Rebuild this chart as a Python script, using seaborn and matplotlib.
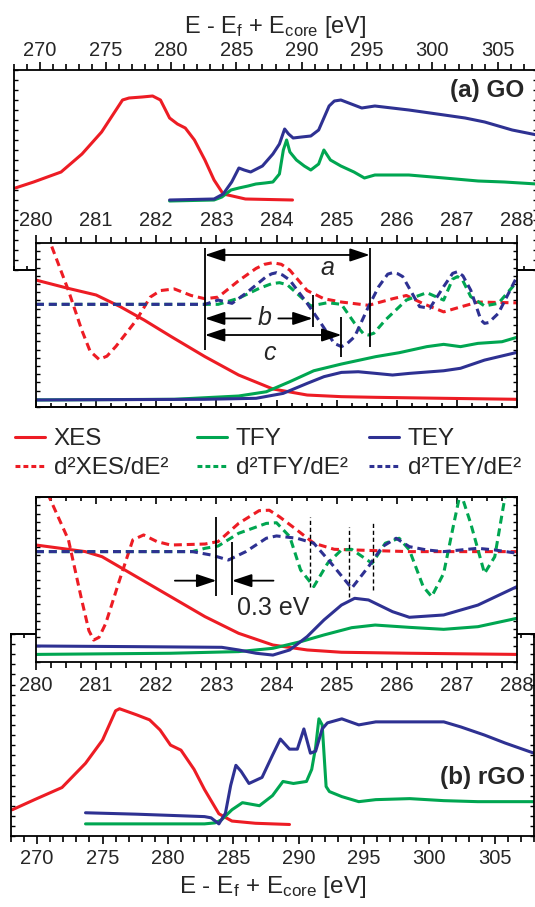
"""
Espectros XES / XAS (TFY, TEY) de GO y rGO con segundas derivadas.
Dos paneles grandes (rango completo) y dos recuadros 280-288 eV.
"""

import matplotlib
matplotlib.use("Agg")
import matplotlib.pyplot as plt
import seaborn as sns
from matplotlib.ticker import MultipleLocator, NullLocator
from matplotlib.lines import Line2D

sns.set_style("ticks")
plt.rcParams["font.family"] = ["Liberation Sans", "DejaVu Sans"]
plt.rcParams["mathtext.fontset"] = "custom"
plt.rcParams["mathtext.rm"] = "Liberation Sans"
plt.rcParams["mathtext.it"] = "Liberation Sans:italic"

# ----------------------------------------------------------
# DATOS (energía en eV, intensidad en unidades arbitrarias)
# ----------------------------------------------------------

# (a) GO, rango completo
xes_go_E = [268.1, 269.5, 271.6, 273.2, 274.7, 275.8, 276.3, 276.8, 277.8, 278.6,
            279.2, 279.9, 280.5, 281.1, 281.8, 282.6, 283.3, 284.0, 284.7, 285.7, 289.3]
xes_go_I = [0.41, 0.44, 0.49, 0.58, 0.69, 0.80, 0.85, 0.86, 0.865, 0.87,
            0.85, 0.76, 0.73, 0.71, 0.65, 0.55, 0.45, 0.38, 0.37, 0.355, 0.35]

tey_go_E = [279.9, 283.3, 284.0, 284.65, 285.2, 285.6, 286.1, 287.0, 287.8, 288.3,
            288.7, 289.0, 289.35, 290.0, 290.7, 291.3, 291.7, 292.1, 292.5, 293.0,
            293.8, 294.6, 295.6, 298.2, 300.9, 302.5, 304.0, 306.1, 308.0]
tey_go_I = [0.35, 0.355, 0.38, 0.44, 0.51, 0.50, 0.49, 0.52, 0.58, 0.63,
            0.705, 0.68, 0.66, 0.665, 0.67, 0.70, 0.76, 0.82, 0.845, 0.85,
            0.83, 0.81, 0.82, 0.80, 0.775, 0.76, 0.74, 0.70, 0.675]

tfy_go_E = [279.9, 283.3, 283.9, 284.6, 285.2, 285.9, 286.5, 287.2, 287.8, 288.3,
            288.6, 288.85, 289.1, 289.6, 290.2, 290.7, 291.3, 291.7, 292.2, 293.0,
            294.0, 294.8, 295.6, 298.2, 300.9, 303.5, 305.5, 308.0]
tfy_go_I = [0.345, 0.35, 0.365, 0.40, 0.41, 0.42, 0.43, 0.435, 0.44, 0.48,
            0.60, 0.65, 0.59, 0.55, 0.52, 0.50, 0.53, 0.60, 0.55, 0.52,
            0.49, 0.46, 0.475, 0.475, 0.46, 0.445, 0.44, 0.43]

# (a) GO, recuadro 280-288 eV
xes_go_zE = [280.0, 280.54, 281.0, 281.4, 281.8, 282.25, 282.81, 283.37, 283.94,
             284.51, 285.08, 285.65, 286.78, 288.0]
xes_go_zI = [0.774, 0.723, 0.683, 0.612, 0.53, 0.429, 0.307, 0.195, 0.11,
             0.073, 0.063, 0.059, 0.053, 0.047]

tfy_go_zE = [280.0, 282.3, 283.37, 283.83, 284.22, 284.62, 285.08, 285.65, 286.04,
             286.5, 286.78, 287.06, 287.35, 287.75, 288.0]
tfy_go_zI = [0.043, 0.047, 0.067, 0.093, 0.154, 0.221, 0.262, 0.307, 0.331,
             0.368, 0.382, 0.368, 0.388, 0.398, 0.425]

tey_go_zE = [280.0, 282.81, 283.66, 284.11, 284.51, 284.79, 285.08, 285.36, 285.65,
             285.93, 286.21, 286.78, 287.06, 287.46, 288.0]
tey_go_zI = [0.043, 0.047, 0.053, 0.083, 0.144, 0.185, 0.211, 0.215, 0.205,
             0.195, 0.205, 0.221, 0.236, 0.286, 0.333]

d2xes_go_E = [280.0, 280.12, 280.25, 280.54, 280.76, 280.9, 281.05, 281.18, 281.33,
              281.67, 281.9, 282.07, 282.3, 282.58, 282.81, 283.03, 283.37, 283.66,
              283.8, 283.94, 284.08, 284.22, 284.51, 284.79, 285.08, 285.53, 285.93,
              286.16, 286.44, 286.78, 287.06, 287.35, 288.0]
d2xes_go_I = [1.1, 1.06, 0.99, 0.71, 0.47, 0.34, 0.29, 0.31, 0.37,
              0.53, 0.67, 0.71, 0.72, 0.68, 0.66, 0.67, 0.77, 0.845,
              0.87, 0.88, 0.87, 0.835, 0.71, 0.66, 0.64, 0.62, 0.66,
              0.68, 0.63, 0.58, 0.61, 0.64, 0.635]

d2tey_go_E = [280.0, 282.81, 283.03, 283.26, 283.49, 283.83, 283.92, 284.0, 284.1,
              284.22, 284.51, 284.74, 284.96, 285.08, 285.17, 285.3, 285.53, 285.7,
              285.85, 285.93, 286.02, 286.1, 286.38, 286.55, 286.78, 286.93, 287.01,
              287.1, 287.23, 287.4, 287.46, 287.53, 287.69, 288.0]
d2tey_go_I = [0.626, 0.626, 0.652, 0.632, 0.693, 0.795, 0.812, 0.819, 0.805,
              0.774, 0.632, 0.51, 0.388, 0.368, 0.385, 0.429, 0.612, 0.734,
              0.81, 0.819, 0.812, 0.795, 0.612, 0.602, 0.734, 0.815, 0.825,
              0.80, 0.713, 0.53, 0.51, 0.515, 0.571, 0.795]

d2tfy_go_E = [280.0, 283.03, 283.37, 283.71, 283.92, 284.05, 284.18, 284.34, 284.57,
              284.85, 285.08, 285.3, 285.45, 285.53, 285.62, 285.81, 286.16, 286.5,
              286.78, 286.93, 287.01, 287.1, 287.23, 287.46, 287.69, 288.0]
d2tfy_go_I = [0.626, 0.626, 0.663, 0.723, 0.752, 0.758, 0.745, 0.693, 0.616,
              0.636, 0.626, 0.51, 0.445, 0.439, 0.45, 0.53, 0.652, 0.697,
              0.652, 0.78, 0.795, 0.77, 0.673, 0.616, 0.632, 0.764]

# (b) rGO, rango completo
xes_rgo_E = [268.1, 269.8, 271.9, 273.7, 275.0, 276.0, 276.3, 277.6, 278.6, 279.4,
             280.2, 281.0, 282.0, 282.8, 283.9, 284.9, 286.7, 289.3]
xes_rgo_I = [0.13, 0.18, 0.24, 0.36, 0.475, 0.62, 0.63, 0.60, 0.575, 0.525,
             0.45, 0.425, 0.33, 0.23, 0.11, 0.074, 0.063, 0.057]

tey_rgo_E = [273.7, 277.6, 282.8, 283.3, 283.9, 284.4, 284.8, 285.2, 285.6, 286.2,
             287.2, 288.0, 288.6, 289.3, 289.9, 290.4, 290.9, 291.3, 291.8, 292.2,
             293.3, 294.6, 295.9, 298.5, 301.1, 302.4, 304.2, 305.8, 308.0]
tey_rgo_I = [0.115, 0.108, 0.096, 0.09, 0.06, 0.113, 0.25, 0.35, 0.32, 0.26,
             0.29, 0.40, 0.48, 0.43, 0.43, 0.53, 0.41, 0.42, 0.53, 0.56,
             0.58, 0.55, 0.565, 0.565, 0.565, 0.54, 0.50, 0.46, 0.41]

tfy_rgo_E = [273.7, 282.8, 283.6, 284.1, 284.9, 285.7, 287.0, 288.0, 288.8, 289.6,
             290.6, 291.0, 291.3, 291.55, 291.8, 292.1, 292.35, 293.3, 294.6, 295.9,
             298.5, 301.1, 303.7, 308.0]
tfy_rgo_I = [0.06, 0.06, 0.065, 0.08, 0.13, 0.165, 0.15, 0.20, 0.27, 0.26,
             0.27, 0.33, 0.44, 0.58, 0.55, 0.245, 0.22, 0.195, 0.17, 0.18,
             0.185, 0.175, 0.17, 0.17]

# (b) rGO, recuadro 280-288 eV
xes_rgo_zE = [280.0, 280.82, 281.1, 281.67, 282.24, 282.81, 283.37, 283.94, 284.51,
              285.08, 286.21, 288.0]
xes_rgo_zI = [0.709, 0.669, 0.638, 0.517, 0.396, 0.275, 0.174, 0.103, 0.073,
              0.059, 0.053, 0.046]

tey_rgo_zE = [280.0, 281.67, 283.09, 283.37, 283.66, 283.94, 284.22, 284.51, 284.79,
              285.08, 285.3, 285.53, 285.93, 286.21, 286.78, 287.35, 288.0]
tey_rgo_zI = [0.097, 0.093, 0.089, 0.073, 0.053, 0.042, 0.073, 0.154, 0.255,
              0.345, 0.386, 0.376, 0.305, 0.271, 0.285, 0.345, 0.457]

tfy_rgo_zE = [280.0, 282.24, 283.37, 283.94, 284.4, 284.79, 285.25, 285.64, 286.21,
              286.78, 287.35, 288.0]
tfy_rgo_zI = [0.046, 0.053, 0.063, 0.083, 0.123, 0.164, 0.208, 0.224, 0.21,
              0.198, 0.214, 0.265]

d2xes_rgo_E = [280.05, 280.22, 280.54, 280.76, 280.88, 280.96, 281.05, 281.16, 281.39,
               281.61, 281.79, 282.01, 282.24, 282.81, 283.03, 283.37, 283.71, 283.88,
               284.05, 284.34, 284.62, 284.96, 285.64, 286.21, 288.0]
d2xes_rgo_I = [1.25, 1.0, 0.74, 0.376, 0.19, 0.133, 0.15, 0.234, 0.497,
               0.74, 0.77, 0.73, 0.709, 0.715, 0.73, 0.84, 0.917, 0.92,
               0.88, 0.80, 0.72, 0.683, 0.675, 0.669, 0.669]

d2tfy_rgo_E = [280.0, 282.6, 282.81, 283.03, 283.37, 283.83, 284.0, 284.22, 284.4,
               284.62, 284.85, 285.08, 285.25, 285.47, 285.59, 285.81, 286.04, 286.21,
               286.44, 286.58, 286.78, 286.95, 287.06, 287.23, 287.46, 287.63, 287.8,
               287.9]
d2tfy_rgo_I = [0.669, 0.669, 0.689, 0.703, 0.78, 0.84, 0.844, 0.76, 0.558,
               0.457, 0.598, 0.679, 0.683, 0.628, 0.598, 0.72, 0.75, 0.679,
               0.457, 0.396, 0.537, 0.84, 1.03, 0.84, 0.537, 0.638, 1.0,
               1.15]

d2tey_rgo_E = [280.0, 282.6, 282.92, 283.2, 283.49, 283.83, 284.0, 284.34, 284.62,
               284.91, 285.25, 285.53, 285.76, 285.99, 286.21, 286.5, 286.78, 287.35,
               287.63, 288.0]
d2tey_rgo_I = [0.669, 0.669, 0.648, 0.618, 0.669, 0.75, 0.764, 0.75, 0.72,
               0.598, 0.447, 0.578, 0.699, 0.75, 0.699, 0.679, 0.669, 0.689,
               0.679, 0.659]

# marcas de las distancias a, b, c (recuadro GO)
marca_E_ini = 282.81
marca_E_a, marca_E_b, marca_E_c = 285.55, 284.6, 285.08
flecha_y_a, flecha_y_b, flecha_y_c = 0.927, 0.54, 0.439

# marcas del desplazamiento de 0.3 eV (recuadro rGO)
marca_03_E = [283.0, 283.26]
marca_03_ymin = [0.40, 0.406]
marca_03_ymax = [0.88, 0.73]
flecha_y_03 = 0.493
lineas_pico_E = [284.55, 285.2, 285.6]
lineas_pico_ymin = [0.457, 0.396, 0.437]
lineas_pico_ymax = [0.88, 0.82, 0.857]

# ----------------------------------------------------------
# ESTILO
# ----------------------------------------------------------
C_XES = "#ed1c24"
C_TFY = "#00a651"
C_TEY = "#2e3192"
GUION = (0, (2.6, 1.6))
LW = 2.2

W, H = 535, 907
fig = plt.figure(figsize=(W / 100, H / 100), dpi=100)


def caja(izq, arr, der, aba):
    # posición en píxeles -> fracción de figura
    return [izq / W, 1 - aba / H, (der - izq) / W, (aba - arr) / H]


def curva(ax, E, I, color, discontinua=False):
    sns.lineplot(x=E, y=I, ax=ax, color=color, lw=LW, estimator=None, sort=False,
                 linestyle=GUION if discontinua else "-",
                 solid_joinstyle="round", dash_joinstyle="round")


def ejes(ax, lado, xmin, xmax, mayor, menor, pad=3):
    ax.set_xlim(xmin, xmax)
    ax.set_ylim(0, 1)
    ax.set_facecolor("white")
    for s in ax.spines.values():
        s.set_linewidth(1.3)
        s.set_color("black")
    ax.xaxis.set_major_locator(MultipleLocator(mayor))
    ax.xaxis.set_minor_locator(MultipleLocator(menor))
    ax.yaxis.set_major_locator(NullLocator())
    ax.yaxis.set_minor_locator(MultipleLocator(0.05))
    ax.tick_params(axis="y", which="minor", direction="in", left=True, right=True,
                   length=3, width=1.0, color="black")
    if lado == "top":
        ax.tick_params(axis="x", which="both", top=True, bottom=False,
                       labeltop=True, labelbottom=False)
        ax.xaxis.set_label_position("top")
        otro = "bottom"
    else:
        ax.tick_params(axis="x", which="both", top=False, bottom=True,
                       labeltop=False, labelbottom=True)
        otro = "top"
    ax.tick_params(axis="x", which="both", direction="out", width=1.2, color="black")
    ax.tick_params(axis="x", which="major", length=6, labelsize=14.5, pad=pad)
    ax.tick_params(axis="x", which="minor", length=4)
    sec = ax.secondary_xaxis(otro)
    sec.xaxis.set_major_locator(MultipleLocator(mayor))
    sec.xaxis.set_minor_locator(MultipleLocator(menor))
    sec.tick_params(axis="x", which="both", direction="in", width=1.2,
                    labelbottom=False, labeltop=False, color="black")
    sec.tick_params(axis="x", which="major", length=5)
    sec.tick_params(axis="x", which="minor", length=3)
    for s in sec.spines.values():
        s.set_linewidth(1.3)
    ax.set_ylabel("")


etiqueta_x = r"E - E$_\mathrm{f}$ + E$_\mathrm{core}$ [eV]"
flecha_doble = "<|-|>,head_length=0.6,head_width=0.2"
flecha_simple = "-|>,head_length=0.6,head_width=0.2"
punta = dict(color="black", lw=1.3, shrinkA=0, shrinkB=0, mutation_scale=20)

# ----------------------------------------------------------
# (a) GO - panel grande
# ----------------------------------------------------------
ax_go = fig.add_axes(caja(14, 70, 537, 270))
curva(ax_go, xes_go_E, xes_go_I, C_XES)
curva(ax_go, tfy_go_E, tfy_go_I, C_TFY)
curva(ax_go, tey_go_E, tey_go_I, C_TEY)
ejes(ax_go, "top", 268, 308, 5, 1, pad=1)
ax_go.set_xlabel(etiqueta_x, fontsize=17, labelpad=6)
ax_go.text(0.975, 0.9, "(a) GO", transform=ax_go.transAxes, ha="right", va="center",
           fontsize=17.5, fontweight="bold")

# ----------------------------------------------------------
# (a) GO - recuadro
# ----------------------------------------------------------
ax_goz = fig.add_axes(caja(36, 243, 517, 407))
curva(ax_goz, xes_go_zE, xes_go_zI, C_XES)
curva(ax_goz, tfy_go_zE, tfy_go_zI, C_TFY)
curva(ax_goz, tey_go_zE, tey_go_zI, C_TEY)
curva(ax_goz, d2xes_go_E, d2xes_go_I, C_XES, True)
curva(ax_goz, d2tfy_go_E, d2tfy_go_I, C_TFY, True)
curva(ax_goz, d2tey_go_E, d2tey_go_I, C_TEY, True)
ejes(ax_goz, "top", 280, 288, 1, 0.25)

ax_goz.vlines([marca_E_ini, marca_E_a], [0.348, 0.368], [0.967, 0.967], color="black", lw=1.3)
ax_goz.vlines([marca_E_b, marca_E_c], [0.49, 0.307], [0.683, 0.55], color="black", lw=1.3)

ax_goz.annotate("", xy=(marca_E_a, flecha_y_a), xytext=(marca_E_ini, flecha_y_a),
                arrowprops=dict(arrowstyle=flecha_doble, **punta))
ax_goz.annotate("", xy=(marca_E_c, flecha_y_c), xytext=(marca_E_ini, flecha_y_c),
                arrowprops=dict(arrowstyle=flecha_doble, **punta))
ax_goz.annotate("", xy=(marca_E_ini, flecha_y_b), xytext=(283.57, flecha_y_b),
                arrowprops=dict(arrowstyle=flecha_simple, **punta))
ax_goz.annotate("", xy=(marca_E_b, flecha_y_b), xytext=(284.03, flecha_y_b),
                arrowprops=dict(arrowstyle=flecha_simple, **punta))
ax_goz.text(284.85, 0.845, "a", style="italic", fontsize=18, ha="center", va="center")
ax_goz.text(283.8, flecha_y_b, "b", style="italic", fontsize=18, ha="center", va="center")
ax_goz.text(283.88, 0.33, "c", style="italic", fontsize=18, ha="center", va="center")

# ----------------------------------------------------------
# (b) rGO - panel grande
# ----------------------------------------------------------
ax_rgo = fig.add_axes(caja(11, 634, 534, 836))
curva(ax_rgo, xes_rgo_E, xes_rgo_I, C_XES)
curva(ax_rgo, tfy_rgo_E, tfy_rgo_I, C_TFY)
curva(ax_rgo, tey_rgo_E, tey_rgo_I, C_TEY)
ejes(ax_rgo, "bottom", 268, 308, 5, 1)
ax_rgo.set_xlabel(etiqueta_x, fontsize=17.5, labelpad=5)
ax_rgo.text(0.983, 0.292, "(b) rGO", transform=ax_rgo.transAxes, ha="right", va="center",
            fontsize=17.5, fontweight="bold")

# ----------------------------------------------------------
# (b) rGO - recuadro
# ----------------------------------------------------------
ax_rgoz = fig.add_axes(caja(36, 497, 517, 662))
curva(ax_rgoz, xes_rgo_zE, xes_rgo_zI, C_XES)
curva(ax_rgoz, tfy_rgo_zE, tfy_rgo_zI, C_TFY)
curva(ax_rgoz, tey_rgo_zE, tey_rgo_zI, C_TEY)
curva(ax_rgoz, d2xes_rgo_E, d2xes_rgo_I, C_XES, True)
curva(ax_rgoz, d2tfy_rgo_E, d2tfy_rgo_I, C_TFY, True)
curva(ax_rgoz, d2tey_rgo_E, d2tey_rgo_I, C_TEY, True)
ejes(ax_rgoz, "bottom", 280, 288, 1, 0.25, pad=4)

ax_rgoz.vlines(marca_03_E, marca_03_ymin, marca_03_ymax, color="black", lw=1.3)
ax_rgoz.vlines(lineas_pico_E, lineas_pico_ymin, lineas_pico_ymax, color="black", lw=1.0,
               linestyles=(0, (3, 2)))
ax_rgoz.annotate("", xy=(marca_03_E[0], flecha_y_03), xytext=(282.31, flecha_y_03),
                 arrowprops=dict(arrowstyle=flecha_simple, **punta))
ax_rgoz.annotate("", xy=(marca_03_E[1], flecha_y_03), xytext=(283.95, flecha_y_03),
                 arrowprops=dict(arrowstyle=flecha_simple, **punta))
ax_rgoz.text(283.94, 0.325, "0.3 eV", fontsize=18, ha="center", va="center")

# ----------------------------------------------------------
# LEYENDA (tres columnas)
# ----------------------------------------------------------
columnas = [
    (15, [("XES", C_XES, "-"), ("d²XES/dE²", C_XES, (0, (1.6, 1.0)))]),
    (197, [("TFY", C_TFY, "-"), ("d²TFY/dE²", C_TFY, (0, (1.6, 1.0)))]),
    (369, [("TEY", C_TEY, "-"), ("d²TEY/dE²", C_TEY, (0, (1.6, 1.0)))]),
]
for x0, entradas in columnas:
    manijas = [Line2D([], [], color=c, lw=LW, linestyle=ls) for _, c, ls in entradas]
    fig.legend(manijas, [t for t, _, _ in entradas], loc="upper left",
               bbox_to_anchor=(x0 / W, 1 - 428 / H), frameon=False, fontsize=17.5,
               handlelength=1.25, handletextpad=0.35, labelspacing=0.3,
               borderpad=0, borderaxespad=0)

fig.savefig("out.png", dpi=100)
plt.close(fig)
